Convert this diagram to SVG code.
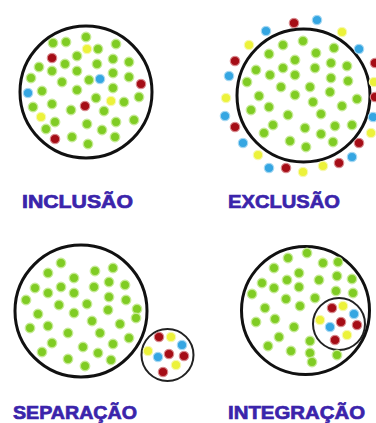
<svg xmlns="http://www.w3.org/2000/svg" width="376" height="423" viewBox="0 0 376 423">
<style>
.ring{fill:none;stroke:#111;stroke-width:3}
.ring2{fill:none;stroke:#222;stroke-width:2}
.g{fill:#80cc24;stroke:#c6ea95;stroke-width:1.4}
.r{fill:#a50d16;stroke:#d88a8e;stroke-width:1.2}
.b{fill:#35a6e2;stroke:#a6d8f2;stroke-width:1.2}
.y{fill:#ecf23a;stroke:#f6f8b0;stroke-width:1.2}
.lbl{font-family:"Liberation Sans",Arial,sans-serif;font-weight:bold;font-size:19px;fill:#3b24ab;stroke:#3b24ab;stroke-width:0.7}
circle.g,circle.r,circle.b,circle.y{r:4.7px}
</style>
<rect width="376" height="423" fill="#fff"/>
<g id="connectors"/>
<g id="inclusao">
<circle class="ring" cx="86" cy="92" r="66"/>
<g>
<circle class="g" cx="86" cy="37"/><circle class="g" cx="53" cy="43"/><circle class="g" cx="66" cy="42"/><circle class="g" cx="98" cy="49"/><circle class="g" cx="116" cy="44"/><circle class="g" cx="77" cy="56"/><circle class="g" cx="65" cy="64"/><circle class="g" cx="97" cy="64"/><circle class="g" cx="113" cy="59"/><circle class="g" cx="129" cy="62"/><circle class="g" cx="39" cy="67"/><circle class="g" cx="52" cy="71"/><circle class="g" cx="77" cy="71"/><circle class="g" cx="113" cy="73"/><circle class="g" cx="89" cy="80"/><circle class="g" cx="62" cy="82"/><circle class="g" cx="31" cy="78"/><circle class="g" cx="129" cy="77"/><circle class="g" cx="42" cy="91"/><circle class="g" cx="77" cy="90"/><circle class="g" cx="113" cy="88"/><circle class="g" cx="139" cy="97"/><circle class="g" cx="96" cy="98"/><circle class="g" cx="124" cy="102"/><circle class="g" cx="33" cy="107"/><circle class="g" cx="52" cy="104"/><circle class="g" cx="71" cy="110"/><circle class="g" cx="104" cy="111"/><circle class="g" cx="55" cy="122"/><circle class="g" cx="87" cy="124"/><circle class="g" cx="116" cy="122"/><circle class="g" cx="134" cy="120"/><circle class="g" cx="46" cy="129"/><circle class="g" cx="102" cy="130"/><circle class="g" cx="72" cy="137"/><circle class="g" cx="115" cy="137"/><circle class="g" cx="88" cy="144"/>
<circle class="y" cx="87" cy="49"/><circle class="y" cx="111" cy="101"/><circle class="y" cx="41" cy="117"/>
<circle class="r" cx="52" cy="58"/><circle class="r" cx="141" cy="84"/><circle class="r" cx="85" cy="106"/><circle class="r" cx="55" cy="139"/>
<circle class="b" cx="100" cy="79"/><circle class="b" cx="28" cy="93"/>
</g>
<text class="lbl" x="22" y="208" textLength="111" lengthAdjust="spacingAndGlyphs">INCLUSÃO</text>
</g>
<g id="exclusao">
<circle class="ring" cx="303.5" cy="95.5" r="66.5"/>
<g>
<circle class="g" cx="303" cy="41"/><circle class="g" cx="283" cy="45"/><circle class="g" cx="334" cy="48"/><circle class="g" cx="269" cy="54"/><circle class="g" cx="316" cy="53"/><circle class="g" cx="295" cy="60"/><circle class="g" cx="256" cy="70"/><circle class="g" cx="270" cy="75"/><circle class="g" cx="283" cy="68"/><circle class="g" cx="295" cy="75"/><circle class="g" cx="315" cy="68"/><circle class="g" cx="331" cy="63"/><circle class="g" cx="347" cy="66"/><circle class="g" cx="247" cy="82"/><circle class="g" cx="331" cy="78"/><circle class="g" cx="348" cy="81"/><circle class="g" cx="281" cy="87"/><circle class="g" cx="310" cy="87"/><circle class="g" cx="259" cy="96"/><circle class="g" cx="295" cy="95"/><circle class="g" cx="330" cy="92"/><circle class="g" cx="357" cy="99"/><circle class="g" cx="251" cy="110"/><circle class="g" cx="269" cy="107"/><circle class="g" cx="313" cy="102"/><circle class="g" cx="342" cy="106"/><circle class="g" cx="288" cy="115"/><circle class="g" cx="321" cy="114"/><circle class="g" cx="273" cy="125"/><circle class="g" cx="305" cy="128"/><circle class="g" cx="335" cy="126"/><circle class="g" cx="352" cy="125"/><circle class="g" cx="264" cy="133"/><circle class="g" cx="321" cy="134"/><circle class="g" cx="290" cy="141"/><circle class="g" cx="333" cy="142"/><circle class="g" cx="306" cy="147"/>
<circle class="r" cx="294" cy="23"/><circle class="b" cx="317" cy="20"/><circle class="b" cx="266" cy="31"/><circle class="y" cx="342" cy="32"/><circle class="y" cx="249" cy="45"/><circle class="b" cx="359" cy="49"/><circle class="r" cx="235" cy="61"/><circle class="r" cx="375" cy="63"/><circle class="b" cx="229" cy="76"/><circle class="y" cx="374" cy="82"/><circle class="y" cx="226" cy="98"/><circle class="r" cx="375" cy="97"/><circle class="b" cx="225" cy="116"/><circle class="b" cx="373" cy="117"/><circle class="r" cx="235" cy="127"/><circle class="y" cx="371" cy="133"/><circle class="b" cx="243" cy="143"/><circle class="r" cx="359" cy="143"/><circle class="y" cx="258" cy="155"/><circle class="b" cx="352" cy="157"/><circle class="b" cx="269" cy="168"/><circle class="r" cx="286" cy="168"/><circle class="y" cx="303" cy="172"/><circle class="y" cx="323" cy="166"/><circle class="r" cx="339" cy="163"/>
</g>
<text class="lbl" x="228" y="208" textLength="112" lengthAdjust="spacingAndGlyphs">EXCLUSÃO</text>
</g>
<g id="separacao">
<circle class="ring" cx="81" cy="311" r="66"/>
<circle class="ring2" cx="167.5" cy="355" r="26"/>
<g>
<circle class="g" cx="61" cy="263"/><circle class="g" cx="48" cy="273"/><circle class="g" cx="95" cy="271"/><circle class="g" cx="113" cy="268"/><circle class="g" cx="74" cy="278"/><circle class="g" cx="35" cy="288"/><circle class="g" cx="61" cy="287"/><circle class="g" cx="48" cy="293"/><circle class="g" cx="74" cy="293"/><circle class="g" cx="94" cy="287"/><circle class="g" cx="109" cy="282"/><circle class="g" cx="125" cy="285"/><circle class="g" cx="26" cy="300"/><circle class="g" cx="59" cy="305"/><circle class="g" cx="87" cy="304"/><circle class="g" cx="109" cy="297"/><circle class="g" cx="126" cy="300"/><circle class="g" cx="38" cy="314"/><circle class="g" cx="74" cy="313"/><circle class="g" cx="108" cy="310"/><circle class="g" cx="137" cy="309"/><circle class="g" cx="136" cy="318"/><circle class="g" cx="92" cy="321"/><circle class="g" cx="30" cy="328"/><circle class="g" cx="48" cy="326"/><circle class="g" cx="68" cy="333"/><circle class="g" cx="100" cy="333"/><circle class="g" cx="120" cy="324"/><circle class="g" cx="129" cy="338"/><circle class="g" cx="52" cy="343"/><circle class="g" cx="83" cy="347"/><circle class="g" cx="113" cy="344"/><circle class="g" cx="42" cy="352"/><circle class="g" cx="98" cy="353"/><circle class="g" cx="68" cy="359"/><circle class="g" cx="111" cy="360"/><circle class="g" cx="85" cy="366"/>
<circle class="r" cx="159" cy="337"/><circle class="y" cx="171" cy="337"/><circle class="b" cx="182" cy="345"/><circle class="y" cx="148" cy="351"/><circle class="r" cx="169" cy="354"/><circle class="r" cx="184" cy="356"/><circle class="b" cx="158" cy="357"/><circle class="y" cx="176" cy="365"/><circle class="r" cx="163" cy="372"/>
</g>
<text class="lbl" x="13" y="419" textLength="124" lengthAdjust="spacingAndGlyphs">SEPARAÇÃO</text>
</g>
<g id="integracao">
<circle class="ring" cx="305.5" cy="310.5" r="64"/>
<circle class="ring2" cx="339" cy="324" r="26"/>
<g>
<circle class="g" cx="307" cy="253"/><circle class="g" cx="288" cy="258"/><circle class="g" cx="323" cy="263"/><circle class="g" cx="338" cy="262"/><circle class="g" cx="274" cy="268"/><circle class="g" cx="299" cy="273"/><circle class="g" cx="337" cy="276"/><circle class="g" cx="352" cy="279"/><circle class="g" cx="287" cy="280"/><circle class="g" cx="319" cy="280"/><circle class="g" cx="262" cy="283"/><circle class="g" cx="274" cy="288"/><circle class="g" cx="299" cy="287"/><circle class="g" cx="252" cy="294"/><circle class="g" cx="336" cy="291"/><circle class="g" cx="353" cy="293"/><circle class="g" cx="286" cy="299"/><circle class="g" cx="315" cy="298"/><circle class="g" cx="265" cy="308"/><circle class="g" cx="300" cy="306"/><circle class="g" cx="256" cy="322"/><circle class="g" cx="275" cy="319"/><circle class="g" cx="294" cy="327"/><circle class="g" cx="279" cy="337"/><circle class="g" cx="310" cy="341"/><circle class="g" cx="268" cy="346"/><circle class="g" cx="291" cy="351"/><circle class="g" cx="310" cy="353"/><circle class="g" cx="337" cy="355"/><circle class="g" cx="312" cy="362"/>
<circle class="r" cx="332" cy="308"/><circle class="y" cx="343" cy="306"/><circle class="b" cx="354" cy="314"/><circle class="y" cx="320" cy="320"/><circle class="r" cx="341" cy="322"/><circle class="r" cx="357" cy="325"/><circle class="b" cx="330" cy="327"/><circle class="y" cx="347" cy="335"/><circle class="r" cx="335" cy="340"/>
</g>
<text class="lbl" x="228" y="419" textLength="137" lengthAdjust="spacingAndGlyphs">INTEGRAÇÃO</text>
</g>
</svg>
